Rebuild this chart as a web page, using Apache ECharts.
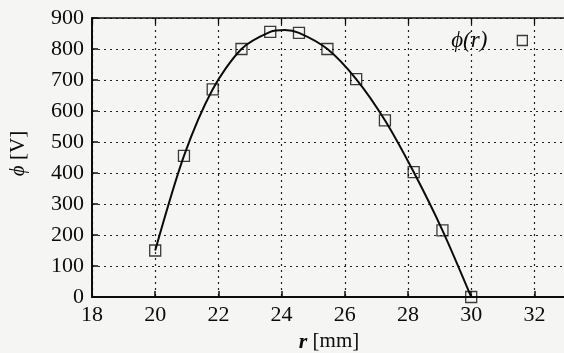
<!DOCTYPE html>
<html>
<head>
<meta charset="utf-8">
<script src="https://cdn.jsdelivr.net/npm/echarts@6/dist/echarts.min.js"></script>
<style>
html,body{margin:0;padding:0;background:#f5f5f3;}
#c{width:564px;height:353px;}
</style>
</head>
<body>
<div id="c"></div>
<script>
// Measured potential ϕ(r)
const radius = [20, 20.91, 21.82, 22.73, 23.64, 24.55, 25.45, 26.36, 27.27, 28.18, 29.09, 30];
const potential = [150, 455, 670, 800, 855, 852, 800, 703, 570, 403, 215, 0];

// Fitted curve through the measurements (with its maximum near r = 24.1 mm)
const fitR = [20, 20.91, 21.82, 22.73, 23.64, 24.1, 24.55, 25.45, 26.36, 27.27, 28.18, 29.09, 30];
const fitPhi = [150, 455, 670, 800, 855, 861, 852, 800, 703, 570, 403, 215, 0];

const xTicks = [18, 20, 22, 24, 26, 28, 30, 32];
const yTicks = [0, 100, 200, 300, 400, 500, 600, 700, 800, 900];

const serif = 'Liberation Serif';
const ink = '#0c0c0c';
const chart = echarts.init(document.getElementById('c'));

chart.setOption({
  backgroundColor: '#f5f5f3',
  animation: false,
  textStyle: { fontFamily: serif },
  grid: { left: 92, right: -2, top: 18, bottom: 56, outerBoundsMode: 'none', containLabel: false },
  legend: {
    right: 31, top: 24, align: 'right',
    itemWidth: 10, itemHeight: 10, itemGap: 10,
    textStyle: { fontFamily: serif, fontStyle: 'italic', fontSize: 23, color: ink, padding: [0, 25, 0, 0] },
    data: [{ name: 'ϕ(r)', icon: 'rect', itemStyle: { color: 'transparent', borderColor: ink, borderWidth: 1.3 } }]
  },
  xAxis: [{
    type: 'value', min: 18, max: 33, interval: 2,
    axisLine: { show: true, lineStyle: { color: ink, width: 2 } },
    axisTick: { show: true, inside: true, length: 6, lineStyle: { color: ink, width: 1.5 } },
    axisLabel: {
      fontFamily: serif, fontSize: 22, color: ink, margin: 7, hideOverlap: false,
      formatter: v => xTicks.includes(v) ? String(v) : ''
    },
    splitLine: { show: true, lineStyle: { color: '#222', type: [2, 4], width: 1.2 } },
    name: '{i|r} [mm]', nameLocation: 'middle', nameGap: 33,
    nameTextStyle: { fontFamily: serif, fontSize: 21, color: ink, rich: { i: { fontStyle: 'italic', fontWeight: 'bold', fontSize: 22, fontFamily: serif } } }
  }, {
    // top border of the frame
    type: 'value', position: 'top', min: 18, max: 33, interval: 2,
    axisLine: { show: true, onZero: false, lineStyle: { color: ink, width: 1.5 } },
    axisTick: { show: true, inside: true, length: 6, lineStyle: { color: ink, width: 1.3 } },
    axisLabel: { show: false }, splitLine: { show: false }
  }],
  yAxis: {
    type: 'value', min: 0, max: 900, interval: 100,
    axisLine: { show: true, lineStyle: { color: ink, width: 2 } },
    axisTick: { show: true, inside: true, length: 6, lineStyle: { color: ink, width: 1.5 } },
    axisLabel: { fontFamily: serif, fontSize: 22, color: ink, margin: 8, hideOverlap: false,
      formatter: v => yTicks.includes(v) ? String(v) : '' },
    splitLine: { show: true, lineStyle: { color: '#222', type: [2, 4], width: 1.2 } },
    name: '{i|ϕ} [V]', nameLocation: 'middle', nameGap: 63,
    nameTextStyle: { fontFamily: serif, fontSize: 21, color: ink, padding: [0, 0, 0, 8], rich: { i: { fontStyle: 'italic', fontSize: 21, fontFamily: serif } } }
  },
  series: [
    {
      name: 'fit', type: 'line', smooth: 0.28, symbol: 'none',
      data: fitR.map((r, i) => [r, fitPhi[i]]),
      lineStyle: { color: ink, width: 2 }, z: 2
    },
    {
      name: 'ϕ(r)', type: 'scatter', symbol: 'rect', symbolSize: 11,
      data: radius.map((r, i) => [r, potential[i]]),
      itemStyle: { color: 'rgba(0,0,0,0)', borderColor: ink, borderWidth: 1.3 }, z: 3
    }
  ]
});
</script>
</body>
</html>
